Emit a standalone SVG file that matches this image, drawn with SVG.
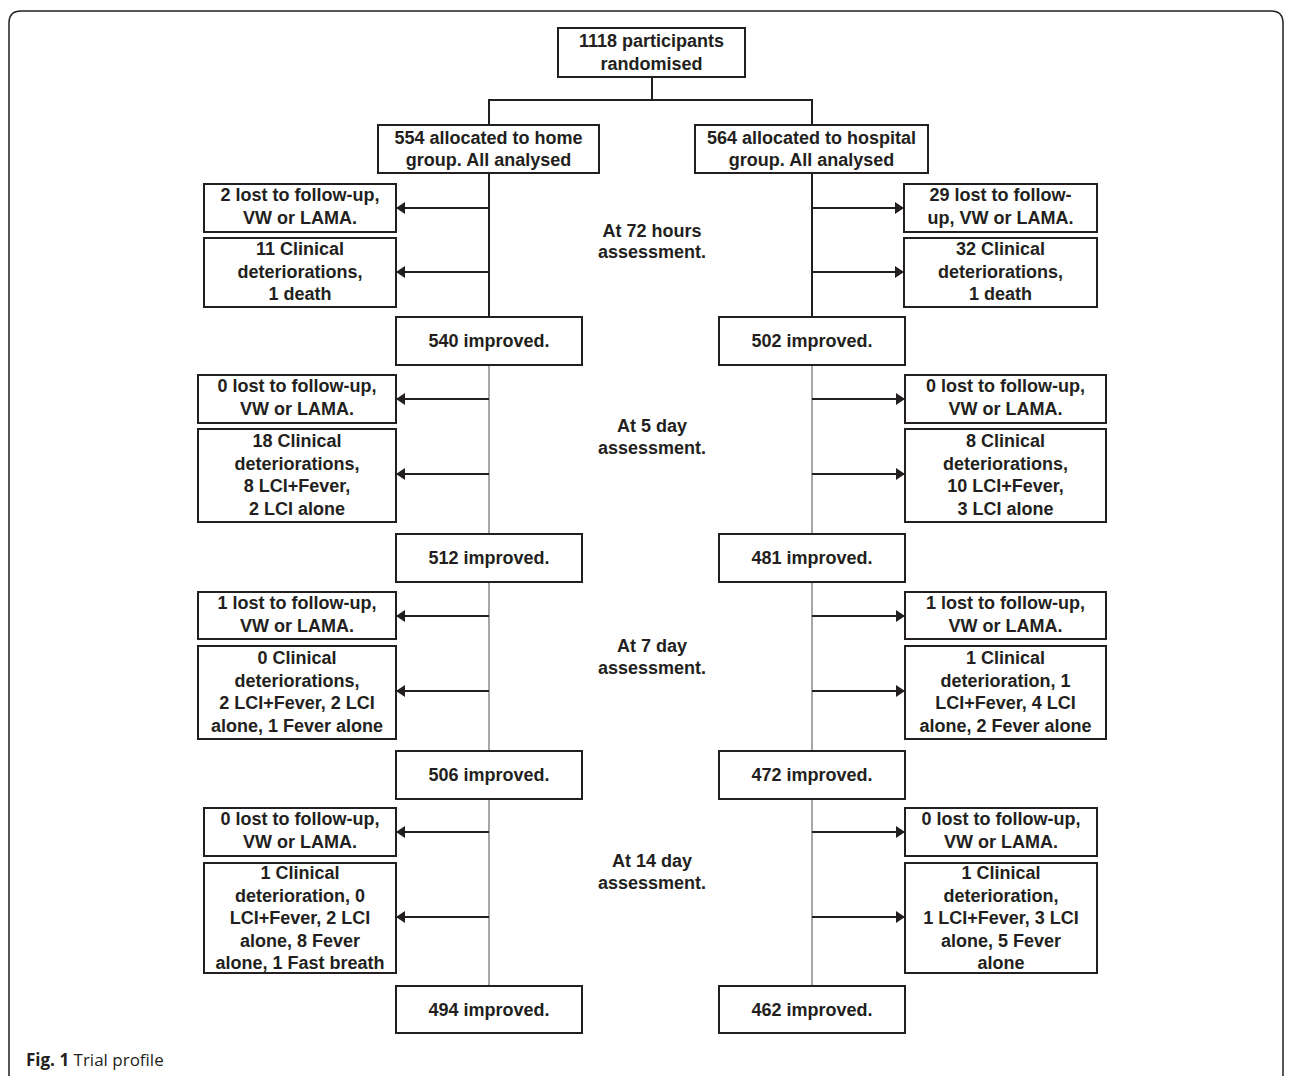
<svg xmlns="http://www.w3.org/2000/svg" width="1292" height="1076" viewBox="0 0 1292 1076">
<style>
.box{fill:#fff;stroke:#231f20;stroke-width:2}
.t{font-family:"Liberation Sans",Arial,sans-serif;font-weight:bold;font-size:18px;fill:#231f20;text-anchor:middle}
.k{fill:none;stroke:#231f20;stroke-width:2}
.g{fill:none;stroke:#8a8a8a;stroke-width:1.5}
.a{fill:none;stroke:#231f20;stroke-width:2;marker-end:url(#ah)}
.cap{font-family:"Open Sans","Noto Sans",sans-serif;font-size:17px;fill:#231f20}
</style>
<defs>
<marker id="ah" markerUnits="userSpaceOnUse" markerWidth="9" markerHeight="12" refX="9" refY="6" orient="auto">
<path d="M0,0 L9,6 L0,12 z" fill="#231f20"/>
</marker>
</defs>
<rect width="1292" height="1076" fill="#fff"/>
<path d="M9,1076 V23 Q9,11 21,11 H1271 Q1283,11 1283,23 V1076" fill="none" stroke="#231f20" stroke-width="1.5"/>

<g id="connectors">
<path class="k" d="M652,77 V100 M489,100 H812 M489,99 V125 M812,99 V125"/>
<path class="k" d="M489,173 V317 M812,173 V317"/>
<path class="g" d="M489,365 V534 M489,582 V751 M489,799 V986 M812,365 V534 M812,582 V751 M812,799 V986"/>
<path class="a" d="M489,208 H396"/>
<path class="a" d="M489,272 H396"/>
<path class="a" d="M489,399 H396"/>
<path class="a" d="M489,474 H396"/>
<path class="a" d="M489,616 H396"/>
<path class="a" d="M489,691 H396"/>
<path class="a" d="M489,832 H396"/>
<path class="a" d="M489,917 H396"/>
<path class="a" d="M812,208 H904"/>
<path class="a" d="M812,272 H904"/>
<path class="a" d="M812,399 H905"/>
<path class="a" d="M812,474 H905"/>
<path class="a" d="M812,616 H905"/>
<path class="a" d="M812,691 H905"/>
<path class="a" d="M812,832 H905"/>
<path class="a" d="M812,917 H905"/>
</g>

<g id="n-randomised"><rect class="box" x="558" y="28" width="187" height="49"/>
<text class="t" x="651.5" y="47">1118 participants</text><text class="t" x="651.5" y="70">randomised</text></g>

<g id="n-home"><rect class="box" x="378" y="125" width="221" height="48"/>
<text class="t" x="488.5" y="144">554 allocated to home</text><text class="t" x="488.5" y="166">group. All analysed</text></g>
<g id="n-hospital"><rect class="box" x="695" y="125" width="233" height="48"/>
<text class="t" x="811.5" y="144">564 allocated to hospital</text><text class="t" x="811.5" y="166">group. All analysed</text></g>

<g id="lbl-72"><text class="t" x="652" y="237">At 72 hours</text><text class="t" x="652" y="258">assessment.</text></g>
<g id="lbl-5"><text class="t" x="652" y="432">At 5 day</text><text class="t" x="652" y="454">assessment.</text></g>
<g id="lbl-7"><text class="t" x="652" y="652">At 7 day</text><text class="t" x="652" y="674">assessment.</text></g>
<g id="lbl-14"><text class="t" x="652" y="867">At 14 day</text><text class="t" x="652" y="889">assessment.</text></g>

<g id="h-lost72"><rect class="box" x="204" y="184" width="192" height="48"/>
<text class="t" x="300" y="201">2 lost to follow-up,</text><text class="t" x="300" y="223.5">VW or LAMA.</text></g>
<g id="h-det72"><rect class="box" x="204" y="238" width="192" height="69"/>
<text class="t" x="300" y="255">11 Clinical</text><text class="t" x="300" y="277.5">deteriorations,</text><text class="t" x="300" y="300">1 death</text></g>
<g id="h-imp72"><rect class="box" x="396" y="317" width="186" height="48"/>
<text class="t" x="489" y="347">540 improved.</text></g>

<g id="h-lost5"><rect class="box" x="198" y="375" width="198" height="48"/>
<text class="t" x="297" y="392">0 lost to follow-up,</text><text class="t" x="297" y="414.5">VW or LAMA.</text></g>
<g id="h-det5"><rect class="box" x="198" y="429" width="198" height="93"/>
<text class="t" x="297" y="447">18 Clinical</text><text class="t" x="297" y="469.5">deteriorations,</text><text class="t" x="297" y="492">8 LCI+Fever,</text><text class="t" x="297" y="514.5">2 LCI alone</text></g>
<g id="h-imp5"><rect class="box" x="396" y="534" width="186" height="48"/>
<text class="t" x="489" y="564">512 improved.</text></g>

<g id="h-lost7"><rect class="box" x="198" y="592" width="198" height="47"/>
<text class="t" x="297" y="609">1 lost to follow-up,</text><text class="t" x="297" y="631.5">VW or LAMA.</text></g>
<g id="h-det7"><rect class="box" x="198" y="646" width="198" height="93"/>
<text class="t" x="297" y="664">0 Clinical</text><text class="t" x="297" y="686.5">deteriorations,</text><text class="t" x="297" y="709">2 LCI+Fever, 2 LCI</text><text class="t" x="297" y="731.5">alone, 1 Fever alone</text></g>
<g id="h-imp7"><rect class="box" x="396" y="751" width="186" height="48"/>
<text class="t" x="489" y="781">506 improved.</text></g>

<g id="h-lost14"><rect class="box" x="204" y="808" width="192" height="48"/>
<text class="t" x="300" y="825">0 lost to follow-up,</text><text class="t" x="300" y="847.5">VW or LAMA.</text></g>
<g id="h-det14"><rect class="box" x="204" y="863" width="192" height="110"/>
<text class="t" x="300" y="879">1 Clinical</text><text class="t" x="300" y="901.5">deterioration, 0</text><text class="t" x="300" y="924">LCI+Fever, 2 LCI</text><text class="t" x="300" y="946.5">alone, 8 Fever</text><text class="t" x="300" y="969">alone, 1 Fast breath</text></g>
<g id="h-imp14"><rect class="box" x="396" y="986" width="186" height="47"/>
<text class="t" x="489" y="1016">494 improved.</text></g>

<g id="p-lost72"><rect class="box" x="904" y="184" width="193" height="48"/>
<text class="t" x="1000.5" y="201">29 lost to follow-</text><text class="t" x="1000.5" y="223.5">up, VW or LAMA.</text></g>
<g id="p-det72"><rect class="box" x="904" y="238" width="193" height="69"/>
<text class="t" x="1000.5" y="255">32 Clinical</text><text class="t" x="1000.5" y="277.5">deteriorations,</text><text class="t" x="1000.5" y="300">1 death</text></g>
<g id="p-imp72"><rect class="box" x="719" y="317" width="186" height="48"/>
<text class="t" x="812" y="347">502 improved.</text></g>

<g id="p-lost5"><rect class="box" x="905" y="375" width="201" height="48"/>
<text class="t" x="1005.5" y="392">0 lost to follow-up,</text><text class="t" x="1005.5" y="414.5">VW or LAMA.</text></g>
<g id="p-det5"><rect class="box" x="905" y="429" width="201" height="93"/>
<text class="t" x="1005.5" y="447">8 Clinical</text><text class="t" x="1005.5" y="469.5">deteriorations,</text><text class="t" x="1005.5" y="492">10 LCI+Fever,</text><text class="t" x="1005.5" y="514.5">3 LCI alone</text></g>
<g id="p-imp5"><rect class="box" x="719" y="534" width="186" height="48"/>
<text class="t" x="812" y="564">481 improved.</text></g>

<g id="p-lost7"><rect class="box" x="905" y="592" width="201" height="47"/>
<text class="t" x="1005.5" y="609">1 lost to follow-up,</text><text class="t" x="1005.5" y="631.5">VW or LAMA.</text></g>
<g id="p-det7"><rect class="box" x="905" y="646" width="201" height="93"/>
<text class="t" x="1005.5" y="664">1 Clinical</text><text class="t" x="1005.5" y="686.5">deterioration, 1</text><text class="t" x="1005.5" y="709">LCI+Fever, 4 LCI</text><text class="t" x="1005.5" y="731.5">alone, 2 Fever alone</text></g>
<g id="p-imp7"><rect class="box" x="719" y="751" width="186" height="48"/>
<text class="t" x="812" y="781">472 improved.</text></g>

<g id="p-lost14"><rect class="box" x="905" y="808" width="192" height="48"/>
<text class="t" x="1001" y="825">0 lost to follow-up,</text><text class="t" x="1001" y="847.5">VW or LAMA.</text></g>
<g id="p-det14"><rect class="box" x="905" y="863" width="192" height="110"/>
<text class="t" x="1001" y="879">1 Clinical</text><text class="t" x="1001" y="901.5">deterioration,</text><text class="t" x="1001" y="924">1 LCI+Fever, 3 LCI</text><text class="t" x="1001" y="946.5">alone, 5 Fever</text><text class="t" x="1001" y="969">alone</text></g>
<g id="p-imp14"><rect class="box" x="719" y="986" width="186" height="47"/>
<text class="t" x="812" y="1016">462 improved.</text></g>

<text class="cap" x="26" y="1066"><tspan font-weight="bold">Fig. 1</tspan> Trial profile</text>
</svg>
